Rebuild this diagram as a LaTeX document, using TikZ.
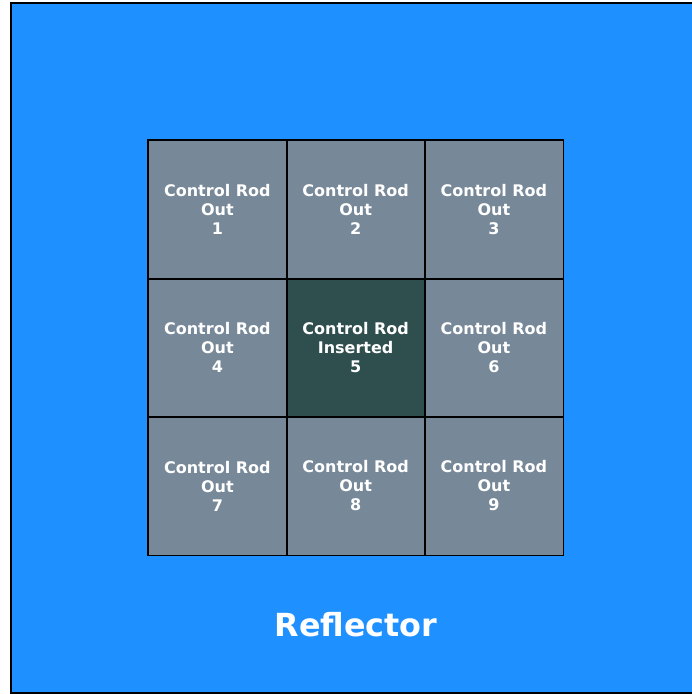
\documentclass[tikz,border=0pt]{standalone}
\usepackage{fontspec}
\setmainfont{DejaVu Sans}
\definecolor{reflblue}{RGB}{30,144,255}
\definecolor{rodout}{RGB}{119,136,153}
\definecolor{rodin}{RGB}{47,79,79}
\begin{document}
\begin{tikzpicture}[x=1pt,y=-1pt,
  cellbox/.style={minimum width=138.3pt,minimum height=138.3pt,inner sep=0pt,anchor=north west,text=white,align=center,font=\fontsize{16}{19}\selectfont\bfseries},
  outcell/.style={cellbox,fill=rodout},
  incell/.style={cellbox,fill=rodin},
  cellborder/.style={draw=black,line width=1.6pt}]
\useasboundingbox (0,0) rectangle (692,694);
\clip (0,0) rectangle (692,694);
\node[draw=black,line width=2pt,fill=reflblue,minimum width=700pt,minimum height=690pt,anchor=north west,inner sep=0pt] (refl) at (10,2) {};
\node[outcell] (c1) at (148,140) {Control Rod\\Out\\1};
\node[outcell] (c2) at (286.3,140) {Control Rod\\Out\\2};
\node[outcell] (c3) at (424.6,140) {Control Rod\\Out\\3};
\node[outcell] (c4) at (148,278.3) {Control Rod\\Out\\4};
\node[incell] (c5) at (286.3,278.3) {Control Rod\\Inserted\\5};
\node[outcell] (c6) at (424.6,278.3) {Control Rod\\Out\\6};
\node[outcell] (c7) at (148,416.6) {Control Rod\\Out\\7};
\node[outcell] (c8) at (286.3,416.6) {Control Rod\\Out\\8};
\node[outcell] (c9) at (424.6,416.6) {Control Rod\\Out\\9};
\foreach \n in {c1,c2,c3,c4,c5,c6,c7,c8,c9}
  \draw[cellborder] (\n.north west) rectangle (\n.south east);
\node[text=white,font=\fontsize{31.8}{36}\selectfont\bfseries,inner sep=0pt] (lbl) at (356,625) {Reflector};
\end{tikzpicture}
\end{document}
